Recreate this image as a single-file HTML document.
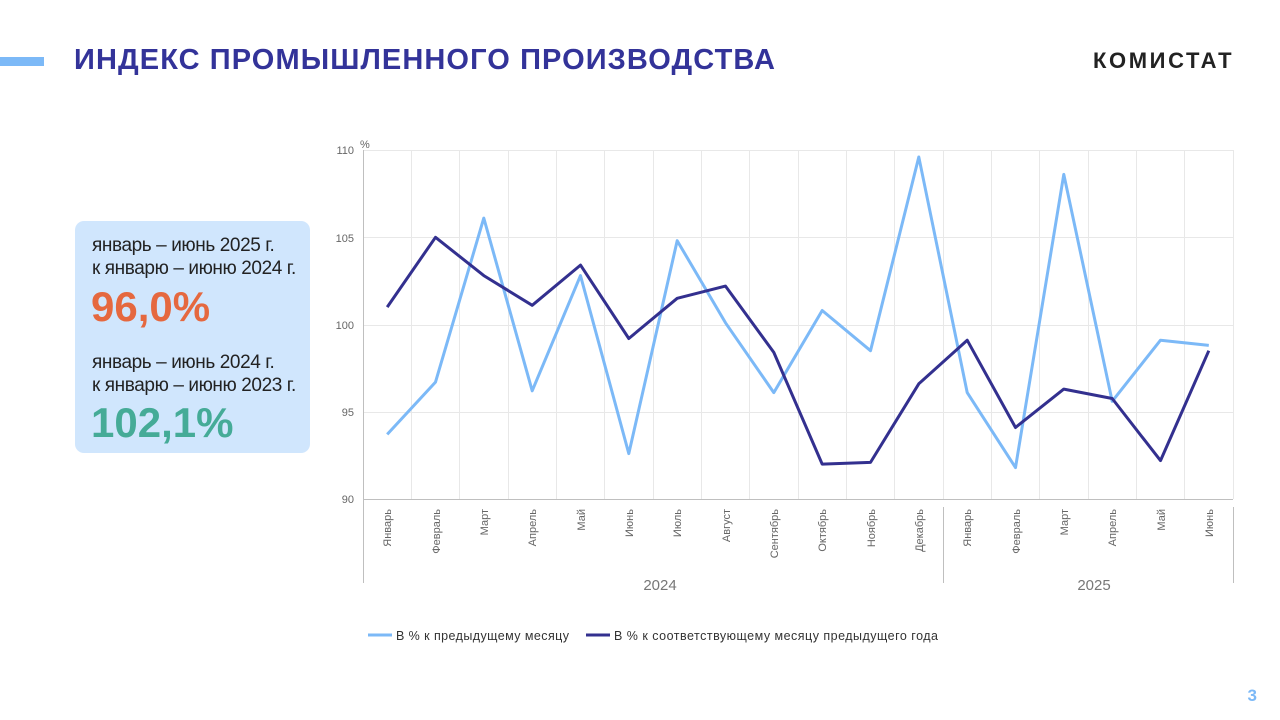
<!DOCTYPE html>
<html><head><meta charset="utf-8"><style>
body{margin:0;width:1280px;height:720px;background:#fff;position:relative;overflow:hidden;font-family:"Liberation Sans",sans-serif}
.bar{position:absolute;left:0;top:57px;width:44px;height:9px;background:#7cb9f7}
.title{position:absolute;left:74px;top:44px;font-size:29px;font-weight:bold;color:#333399;letter-spacing:1.1px}
.logo{position:absolute;left:1093px;top:48px;font-size:22px;font-weight:bold;color:#222;letter-spacing:2.6px}
.box{position:absolute;left:75px;top:221px;width:235px;height:232px;background:#d0e6fd;border-radius:9px}
.t{position:absolute;left:17px;font-size:19px;color:#222;line-height:23px;letter-spacing:-0.4px}
.n{position:absolute;left:16px;font-size:42px;font-weight:bold}
.pg{position:absolute;right:23px;top:686px;font-size:17px;font-weight:bold;color:#7cb9f7}
</style></head><body>
<div class="bar"></div>
<div class="title">ИНДЕКС ПРОМЫШЛЕННОГО ПРОИЗВОДСТВА</div>
<div class="logo">КОМИСТАТ</div>
<div class="box">
<div class="t" style="top:13px">январь – июнь 2025 г.<br>к январю – июню 2024 г.</div>
<div class="n" style="top:62px;color:#e5683f">96,0%</div>
<div class="t" style="top:130px">январь – июнь 2024 г.<br>к январю – июню 2023 г.</div>
<div class="n" style="top:178px;color:#45ab97">102,1%</div>
</div>
<svg width="1280" height="720" style="position:absolute;left:0;top:0" font-family="Liberation Sans, sans-serif">
<g stroke="#e8e8e8" stroke-width="1">
<line x1="363" y1="150.5" x2="1233" y2="150.5"/><line x1="363" y1="237.5" x2="1233" y2="237.5"/>
<line x1="363" y1="325.5" x2="1233" y2="325.5"/><line x1="363" y1="412.5" x2="1233" y2="412.5"/>
<line x1="411.5" y1="150" x2="411.5" y2="499"/><line x1="459.5" y1="150" x2="459.5" y2="499"/>
<line x1="508.5" y1="150" x2="508.5" y2="499"/><line x1="556.5" y1="150" x2="556.5" y2="499"/>
<line x1="604.5" y1="150" x2="604.5" y2="499"/><line x1="653.5" y1="150" x2="653.5" y2="499"/>
<line x1="701.5" y1="150" x2="701.5" y2="499"/><line x1="749.5" y1="150" x2="749.5" y2="499"/>
<line x1="798.5" y1="150" x2="798.5" y2="499"/><line x1="846.5" y1="150" x2="846.5" y2="499"/>
<line x1="894.5" y1="150" x2="894.5" y2="499"/><line x1="943.5" y1="150" x2="943.5" y2="499"/>
<line x1="991.5" y1="150" x2="991.5" y2="499"/><line x1="1039.5" y1="150" x2="1039.5" y2="499"/>
<line x1="1088.5" y1="150" x2="1088.5" y2="499"/><line x1="1136.5" y1="150" x2="1136.5" y2="499"/>
<line x1="1184.5" y1="150" x2="1184.5" y2="499"/><line x1="1233.5" y1="150" x2="1233.5" y2="499"/>
</g>
<g stroke="#bfbfbf"><line x1="363.5" y1="150" x2="363.5" y2="583"/><line x1="363" y1="499.5" x2="1233" y2="499.5"/>
<line x1="943.5" y1="507" x2="943.5" y2="583"/><line x1="1233.5" y1="507" x2="1233.5" y2="583"/></g>
<g font-size="11" fill="#666" text-anchor="end">
<text x="354" y="154">110</text><text x="354" y="242">105</text><text x="354" y="329">100</text><text x="354" y="416">95</text><text x="354" y="503">90</text>
</g>
<text x="360" y="148" font-size="11" fill="#666">%</text>
<g font-size="11" fill="#666" text-anchor="end">
<text transform="translate(391,509) rotate(-90)">Январь</text>
<text transform="translate(440,509) rotate(-90)">Февраль</text>
<text transform="translate(488,509) rotate(-90)">Март</text>
<text transform="translate(536,509) rotate(-90)">Апрель</text>
<text transform="translate(585,509) rotate(-90)">Май</text>
<text transform="translate(633,509) rotate(-90)">Июнь</text>
<text transform="translate(681,509) rotate(-90)">Июль</text>
<text transform="translate(730,509) rotate(-90)">Август</text>
<text transform="translate(778,509) rotate(-90)">Сентябрь</text>
<text transform="translate(826,509) rotate(-90)">Октябрь</text>
<text transform="translate(875,509) rotate(-90)">Ноябрь</text>
<text transform="translate(923,509) rotate(-90)">Декабрь</text>
<text transform="translate(971,509) rotate(-90)">Январь</text>
<text transform="translate(1020,509) rotate(-90)">Февраль</text>
<text transform="translate(1068,509) rotate(-90)">Март</text>
<text transform="translate(1116,509) rotate(-90)">Апрель</text>
<text transform="translate(1165,509) rotate(-90)">Май</text>
<text transform="translate(1213,509) rotate(-90)">Июнь</text>
</g>
<text x="660" y="590" font-size="15" fill="#777" text-anchor="middle">2024</text>
<text x="1094" y="590" font-size="15" fill="#777" text-anchor="middle">2025</text>
<polyline fill="none" stroke="#7cb9f7" stroke-width="3" stroke-linejoin="round" points="387.2,434.4 435.5,382.1 483.8,218.1 532.2,390.8 580.5,275.6 628.8,453.6 677.2,240.7 725.5,322.8 773.8,392.6 822.2,310.5 870.5,350.7 918.8,157 967.2,392.6 1015.5,467.6 1063.8,174.4 1112.2,401.3 1160.5,340.2 1208.8,345.4"/>
<polyline fill="none" stroke="#33308f" stroke-width="3" stroke-linejoin="round" points="387.2,307.1 435.5,237.3 483.8,275.6 532.2,305.3 580.5,265.1 628.8,338.5 677.2,298.3 725.5,286.1 773.8,352.4 822.2,464.1 870.5,462.4 918.8,383.8 967.2,340.2 1015.5,427.5 1063.8,389.1 1112.2,398.5 1160.5,460.6 1208.8,350.7"/>
<line x1="368" y1="635" x2="392" y2="635" stroke="#7cb9f7" stroke-width="3"/>
<text x="396" y="640" font-size="12.5" fill="#333" textLength="173" lengthAdjust="spacing">В % к предыдущему месяцу</text>
<line x1="586" y1="635" x2="610" y2="635" stroke="#33308f" stroke-width="3"/>
<text x="614" y="640" font-size="12.5" fill="#333" textLength="324" lengthAdjust="spacing">В % к соответствующему  месяцу предыдущего года</text>
</svg>
<div class="pg">3</div>
</body></html>
